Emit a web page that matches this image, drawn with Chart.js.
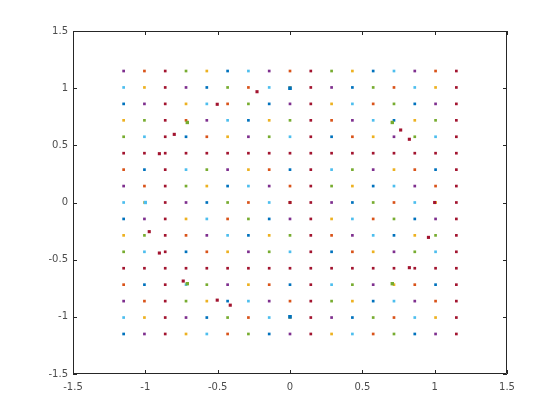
<!DOCTYPE html>
<html>
<head>
<meta charset="utf-8">
<script src="https://cdn.jsdelivr.net/npm/chart.js@4/dist/chart.umd.min.js"></script>
<style>
  html, body { margin: 0; padding: 0; background: #fff; }
  #wrap { width: 560px; height: 420px; }
</style>
</head>
<body>
<div id="wrap"><canvas id="myChart" width="560" height="420"></canvas></div>
<script>
// grid positions (same on both axes)
const gridVals = [-1.15, -1.00625, -0.8625, -0.71875, -0.575, -0.43125, -0.2875, -0.14375, 0,
                  0.14375, 0.2875, 0.43125, 0.575, 0.71875, 0.8625, 1.00625, 1.15];

// points on the unit circle, red ones
const redX = [-0.228, -0.503, -0.80, -0.903, 0.765, 0.825, -0.973, -0.903, -0.738, -0.503, -0.413, 0.957, 0.825, 0, 1.0];
const redY = [0.969, 0.859, 0.596, 0.427, 0.634, 0.553, -0.255, -0.442, -0.687, -0.854, -0.898, -0.305, -0.570, 0, 0];
// green ones (diagonals)
const greenX = [-0.71, 0.707, -0.71, 0.707];
const greenY = [0.70, 0.70, -0.71, -0.71];
// blue ones
const blueX = [0, 0];
const blueY = [1, -1];
const cyanX = [-1];
const cyanY = [0];

const xTicks = [-1.5, -1, -0.5, 0, 0.5, 1, 1.5];
const yTicks = [-1.5, -1, -0.5, 0, 0.5, 1, 1.5];

const palette = ['#0072BD', '#D95319', '#EDB120', '#7E2F8E', '#77AC30', '#4DBEEE', '#A2142F'];

function pairs(xs, ys) {
    return xs.map(function (x, i) { return { x: x, y: ys[i] }; });
}

var gridPts = [];
var gridCols = [];
for (var i = 0; i < gridVals.length; i++) {
    for (var j = 0; j < gridVals.length; j++) {
        gridPts.push({ x: gridVals[i], y: gridVals[j] });
        gridCols.push(palette[(i * 3 + j * 5 + i * j) % 7]);
    }
}

// box + inward ticks like matlab
const boxPlugin = {
    id: 'box',
    afterDraw: function (chart) {
        var c = chart.ctx, a = chart.chartArea;
        var xs = chart.scales.x, ys = chart.scales.y;
        c.save();
        c.strokeStyle = '#262626';
        c.lineWidth = 1;
        c.beginPath();
        c.rect(Math.round(a.left) + 0.5, Math.round(a.top) + 0.5,
               Math.round(a.right - a.left) - 1, Math.round(a.bottom - a.top) - 1);
        xTicks.forEach(function (t) {
            var px = Math.round(xs.getPixelForValue(t)) + 0.5;
            c.moveTo(px, a.bottom); c.lineTo(px, a.bottom - 4);
            c.moveTo(px, a.top); c.lineTo(px, a.top + 4);
        });
        yTicks.forEach(function (t) {
            var py = Math.round(ys.getPixelForValue(t)) + 0.5;
            c.moveTo(a.left, py); c.lineTo(a.left + 4, py);
            c.moveTo(a.right, py); c.lineTo(a.right - 4, py);
        });
        c.stroke();
        c.restore();
    }
};

var ctx = document.getElementById('myChart').getContext('2d');
var chart = new Chart(ctx, {
    type: 'scatter',
    data: {
        datasets: [
            { data: pairs(blueX, blueY), pointStyle: 'rect', pointRadius: 2.6, backgroundColor: '#0072BD', borderWidth: 0 },
            { data: pairs(cyanX, cyanY), pointStyle: 'rect', pointRadius: 2.4, backgroundColor: '#4DBEEE', borderWidth: 0 },
            { data: pairs(greenX, greenY), pointStyle: 'rect', pointRadius: 2.4, backgroundColor: '#77AC30', borderWidth: 0 },
            { data: pairs(redX, redY), pointStyle: 'rect', pointRadius: 2.2, backgroundColor: '#A2142F', borderWidth: 0 },
            { data: gridPts, pointStyle: 'rect', pointRadius: 1.9, backgroundColor: gridCols, borderWidth: 0 }
        ]
    },
    options: {
        responsive: false,
        animation: false,
        events: [],
        layout: { padding: { left: 0, top: 31, right: 53, bottom: 0 } },
        plugins: { legend: { display: false }, tooltip: { enabled: false } },
        scales: {
            x: {
                type: 'linear', min: -1.5, max: 1.5,
                afterBuildTicks: function (s) { s.ticks = xTicks.map(function (v) { return { value: v }; }); },
                afterFit: function (s) { s.height = 46; },
                grid: { display: false, drawTicks: false },
                border: { display: false },
                ticks: { color: '#4d4d4d', font: { family: 'DejaVu Sans', size: 10 }, padding: 7, maxRotation: 0,
                         callback: function (v) { return String(v); } }
            },
            y: {
                type: 'linear', min: -1.5, max: 1.5,
                afterBuildTicks: function (s) { s.ticks = yTicks.map(function (v) { return { value: v }; }); },
                afterFit: function (s) { s.width = 73; },
                grid: { display: false, drawTicks: false },
                border: { display: false },
                ticks: { color: '#4d4d4d', font: { family: 'DejaVu Sans', size: 10 }, padding: 5,
                         callback: function (v) { return String(v); } }
            }
        }
    },
    plugins: [boxPlugin]
});
</script>
</body>
</html>
